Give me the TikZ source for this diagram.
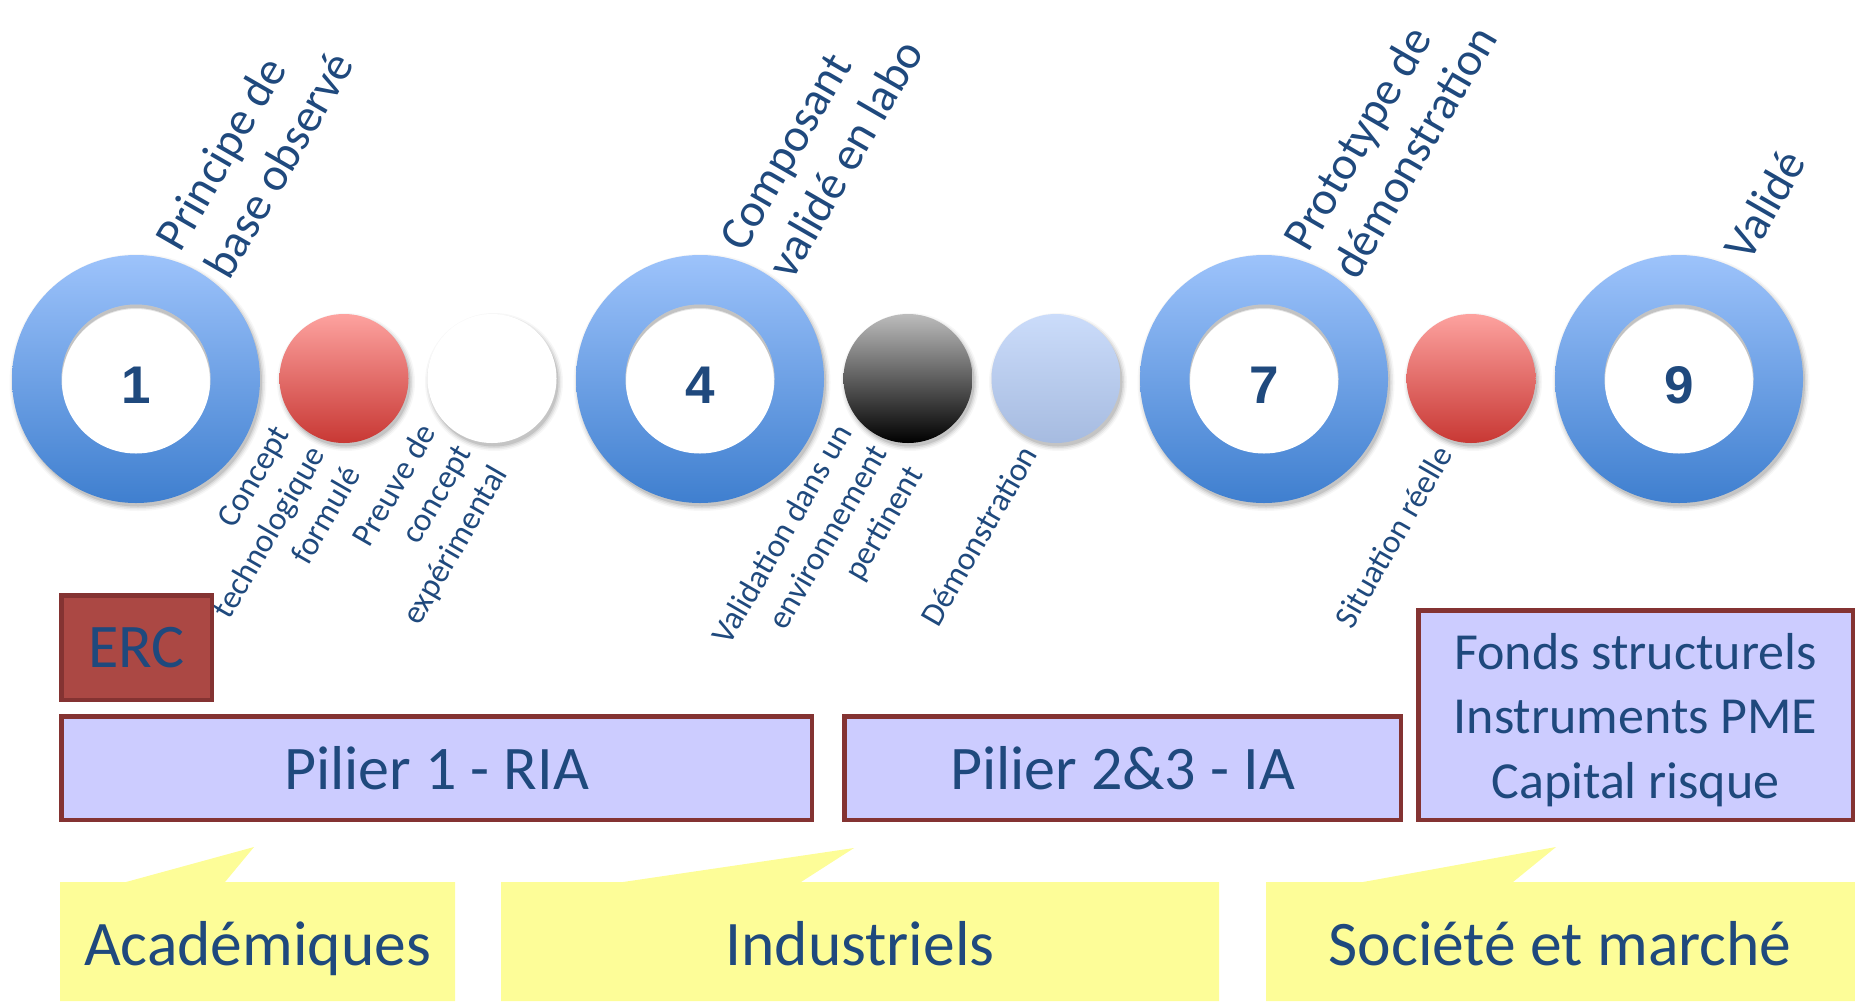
\documentclass[tikz,border=0pt]{standalone}
\usepackage{fontspec}
\setmainfont{Carlito}
\newfontfamily\numfont{Liberation Sans}
\definecolor{txt}{RGB}{31,73,125}
\definecolor{ringtop}{RGB}{157,195,251}
\definecolor{ringbot}{RGB}{63,127,207}
\definecolor{redtop}{RGB}{253,162,159}
\definecolor{redbot}{RGB}{200,56,52}
\definecolor{greytop}{RGB}{188,188,188}
\definecolor{lbtop}{RGB}{203,220,250}
\definecolor{lbbot}{RGB}{166,187,224}
\definecolor{boxfill}{RGB}{204,204,255}
\definecolor{boxline}{RGB}{132,51,50}
\definecolor{ercfill}{RGB}{171,72,68}
\definecolor{yel}{RGB}{253,253,152}
\newcommand\SoftShadow[2]{%
  \foreach \k/\o in {0/0.10,1/0.07,2/0.05,3/0.03}{
    \fill[black, opacity=\o, shift={(2,-3.5)}] (#1) circle ({#2+\k*1.5});
  }}
\begin{document}
\begin{tikzpicture}[x=0.5pt,y=0.5pt,
  ringnode/.style={circle, minimum size=124pt, inner sep=0, top color=ringtop, bottom color=ringbot, draw=none},
  hole/.style={circle, minimum size=74.5pt, inner sep=0, fill=white,
    path picture={
      \draw[black, opacity=0.10, line width=6pt] ([yshift=-2.5pt]path picture bounding box.center) circle (40.5pt);
      \draw[black, opacity=0.15, line width=3pt] ([yshift=-1.5pt]path picture bounding box.center) circle (38.5pt);
    }},
  ball/.style={circle, minimum size=64.5pt, inner sep=0, draw=none},
  toplab/.style={rotate=60, anchor=west, align=left, inner sep=0, text=txt, font=\fontsize{23.5}{28}\selectfont},
  botlab/.style={rotate=60, anchor=east, align=right, inner sep=0, text=txt, font=\fontsize{16.5}{20.5}\selectfont},
  num/.style={anchor=base, text=txt, font=\numfont\bfseries\fontsize{26.5}{30}\selectfont, inner sep=0},
  pbox/.style={draw=boxline, line width=2.25pt, fill=boxfill, text=txt, inner sep=0, align=center, font=\fontsize{31}{37}\selectfont},
  ercbox/.style={pbox, fill=ercfill},
  boxtext/.style={text=txt, inner sep=0, align=center, font=\fontsize{26}{32.25}\selectfont},
  calltext/.style={anchor=base, text=txt, inner sep=0, font=\fontsize{31.75}{38}\selectfont}
]
\useasboundingbox (0,0) rectangle (1855,-1001);

% rings
\foreach \n/\x in {1/136, 4/700, 7/1264, 9/1679}{
  \SoftShadow{\x,-379}{124}
  \node[ringnode] (R\n) at (\x,-379) {};
  \node[hole] (H\n) at (\x,-379) {};
  \node[num] (N\n) at (\x,-403) {\n};
}

% balls
\SoftShadow{344,-378.5}{64.5}
\node[ball, top color=redtop, bottom color=redbot] (B2) at (344,-378.5) {};
\SoftShadow{492,-378.5}{64.5}
\node[ball, fill=white] (B3) at (492,-378.5) {};
\SoftShadow{908,-378.5}{64.5}
\node[ball, top color=greytop, bottom color=black] (B5) at (908,-378.5) {};
\SoftShadow{1056,-378.5}{64.5}
\node[ball, top color=lbtop, bottom color=lbbot] (B6) at (1056,-378.5) {};
\SoftShadow{1471,-378.5}{64.5}
\node[ball, top color=redtop, bottom color=redbot] (B8) at (1471,-378.5) {};

% top labels
\node[toplab] (T1) at (191,-260) {Principe de\\base observé};
\node[toplab] (T4) at (755,-260) {Composant\\validé en labo};
\node[toplab] (T7) at (1319,-260) {Prototype de\\démonstration};
\node[toplab] (T9) at (1735,-255.5) {Validé};

% bottom labels
\node[botlab] (L2) at (317,-448.5) {Concept\\technologique\\formulé};
\node[botlab] (L3) at (465,-448.5) {Preuve de\\concept\\expérimental};
\node[botlab] (L5) at (881,-448.5) {Validation dans un\\environnement\\pertinent};
\node[botlab] (L6) at (1029,-448.5) {Démonstration};
\node[botlab] (L8) at (1444,-448.5) {Situation réelle};

% programme boxes
\node[ercbox, minimum width=75.25pt, minimum height=52.25pt] (ERC) at (136.5,-647.5) {ERC};
\node[pbox, minimum width=375.25pt, minimum height=51.75pt] (P1) at (436.5,-768) {Pilier 1 - RIA};
\node[pbox, minimum width=278.25pt, minimum height=51.75pt] (P2) at (1122.5,-768) {Pilier 2\&3 - IA};
\node[pbox, minimum width=217.25pt, minimum height=104.75pt] (P3) at (1635.5,-715) {};
\node[boxtext] (P3t) at (1635.5,-720) {Fonds structurels\\Instruments PME\\Capital risque};

% callouts
\fill[yel] (60,-1001) -- (60,-882) -- (126,-882) -- (254,-847) -- (225,-882) -- (455,-882) -- (455,-1001) -- cycle;
\fill[yel] (501,-1001) -- (501,-882) -- (623,-882) -- (854,-848) -- (801,-882) -- (1219,-882) -- (1219,-1001) -- cycle;
\fill[yel] (1266,-1001) -- (1266,-882) -- (1363,-882) -- (1556,-847) -- (1513,-882) -- (1855,-882) -- (1855,-1001) -- cycle;
\node[calltext] (A1) at (257.5,-965) {Académiques};
\node[calltext] (A2) at (860,-965) {Industriels};
\node[calltext] (A3) at (1560,-965) {Société et marché};
\end{tikzpicture}
\end{document}
